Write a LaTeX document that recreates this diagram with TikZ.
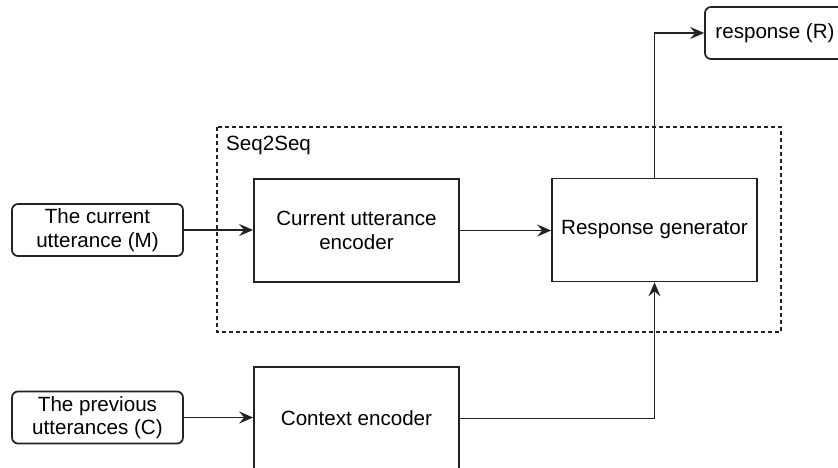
\documentclass[tikz,border=0pt]{standalone}
\usepackage{fontspec}
\setmainfont{Liberation Sans}
\usetikzlibrary{arrows.meta}
\definecolor{ln}{HTML}{222222}
\begin{document}
\begin{tikzpicture}[x=1pt,y=-1pt,
  every node/.style={font=\fontsize{20.6}{23.5}\selectfont, text=black},
  blk/.style={draw=ln, line width=1.7pt, minimum width=205pt, minimum height=103pt, align=center, inner sep=0pt},
  iobox/.style={draw=ln, line width=1.7pt, rounded corners=6pt, minimum width=171pt, minimum height=52pt, align=center, inner sep=0pt},
  conn/.style={draw=ln, line width=1.7pt, -{Stealth[length=14pt,width=12pt,inset=5pt]}},
  frame/.style={draw=ln, line width=1.4pt, dash pattern=on 4pt off 3pt},
]
\useasboundingbox (0,0) rectangle (838,468);
\clip (0,0) rectangle (838,468);

% dashed Seq2Seq frame
\draw[frame] (217,127) rectangle (781,332);
\node[anchor=north west, inner sep=0pt] (s2s) at (226,136) {Seq2Seq};

% nodes
\node[iobox] (M) at (97.5,230) {The current\\utterance (M)};
\node[iobox] (C) at (97.5,417.5) {The previous\\utterances (C)};
\node[blk] (enc) at (356.5,230.5) {Current utterance\\encoder};
\node[blk] (ctx) at (356.5,418.5) {Context encoder};
\node[blk] (gen) at (654.5,230) {Response generator};
\node[iobox, minimum width=140pt] (resp) at (775,33) {response (R)};

% connectors
\draw[conn] (M.east) -- (enc.west |- M.east);
\draw[conn] (enc.east) -- (gen.west |- enc.east);
\draw[conn] (C.east) -- (ctx.west |- C.east);
\draw[conn] (ctx.east) -| (gen.south);
\draw[conn] (gen.north) |- (resp.west);
\end{tikzpicture}
\end{document}
